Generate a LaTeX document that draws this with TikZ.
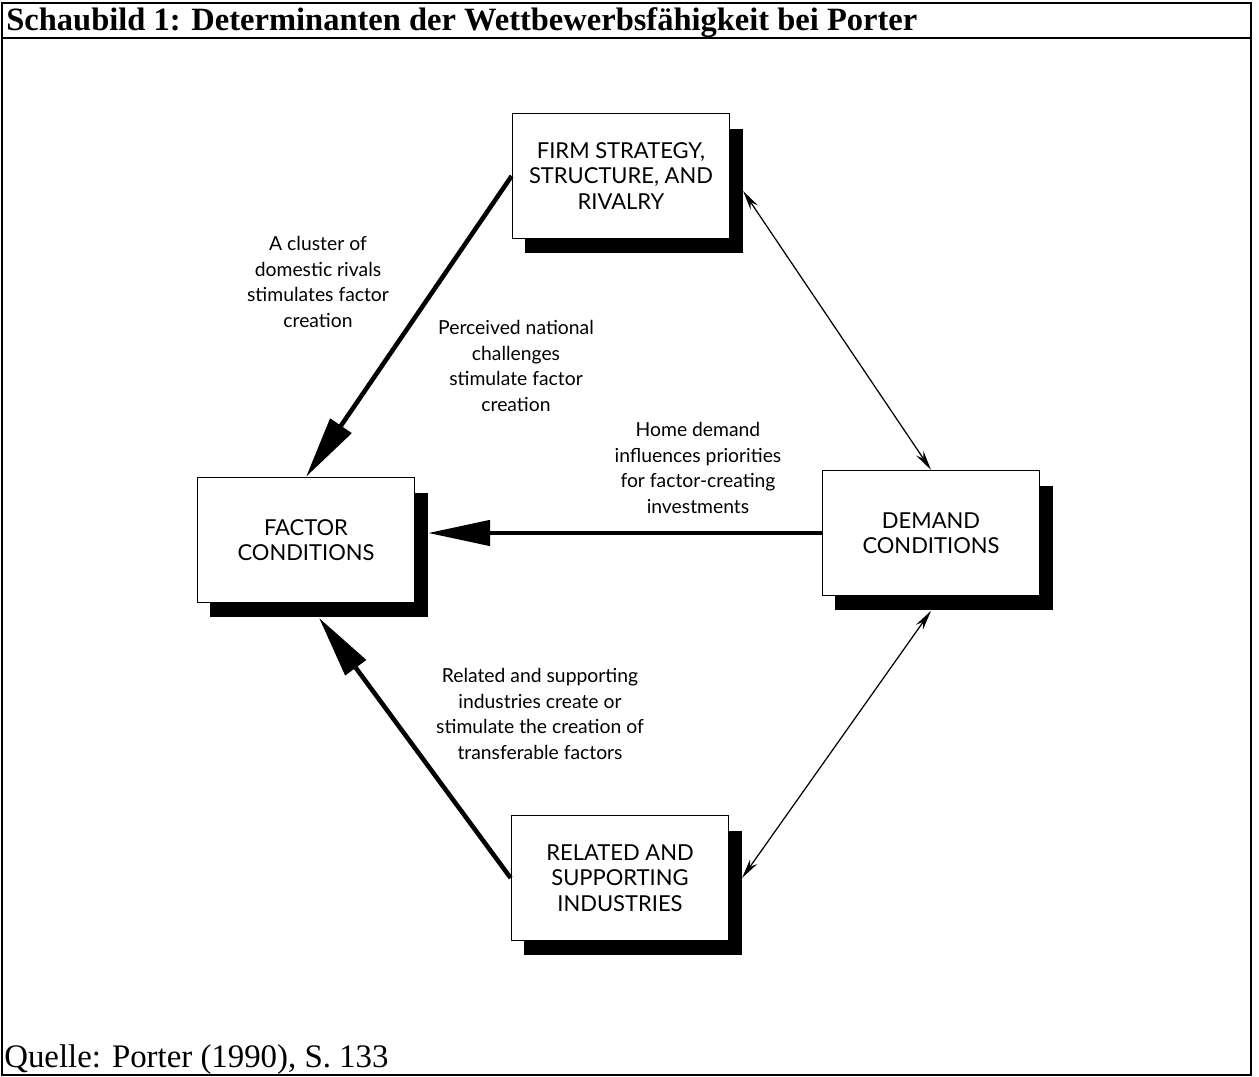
\documentclass[tikz,border=0pt]{standalone}
\usepackage{fontspec}
\setmainfont{Liberation Serif}
\newfontfamily\diagfont{Lato}
\usetikzlibrary{arrows.meta}

\tikzset{
  box/.style={draw, fill=white, line width=0.7pt, minimum width=4.35cm,
    minimum height=2.5cm, align=center, inner sep=0pt,
    font=\diagfont\fontsize{12.5}{14.5}\selectfont},
  boxshadow/.style={fill=black, minimum width=4.35cm, minimum height=2.5cm, inner sep=0pt},
  note/.style={align=center, font=\diagfont\fontsize{11}{14.6}\selectfont},
  bigarrow/.style={line width=2.6pt, -{Triangle[length=1.24cm, width=0.5cm]}},
  thinarrow/.style={line width=0.7pt,
    {Stealth[length=0.4cm, width=0.17cm]}-{Stealth[length=0.4cm, width=0.17cm]}}
}

\begin{document}
\begin{tikzpicture}[x=0.02cm, y=-0.02cm]
  \useasboundingbox (0,0) rectangle (1259,1077);

  % frame and title
  \draw[line width=1.1pt] (2,3) rectangle (1251,1075);
  \draw[line width=1.1pt] (2,38) -- (1251,38);
  \node[anchor=base west, inner sep=0pt, font=\bfseries\fontsize{18.5}{21}\selectfont]
    (title) at (6,31) {Schaubild 1: Determinanten der Wettbewerbsfähigkeit bei Porter};
  \node[anchor=base west, inner sep=0pt, font=\fontsize{18.7}{21}\selectfont]
    (source) at (4,1068) {Quelle: Porter (1990), S. 133};

  % shadows
  \node[boxshadow] (firm-sh) at (634,191) {};
  \node[boxshadow] (factor-sh) at (319,555) {};
  \node[boxshadow] (demand-sh) at (944,548) {};
  \node[boxshadow] (related-sh) at (633,893) {};

  % the four determinants
  \node[box] (firm) at (621,176) {FIRM STRATEGY,\\STRUCTURE, AND\\RIVALRY};
  \node[box] (factor) at (306,540) {FACTOR\\CONDITIONS};
  \node[box] (demand) at (931,533) {DEMAND\\CONDITIONS};
  \node[box] (related) at (620,878) {RELATED AND\\SUPPORTING\\INDUSTRIES};

  % connectors
  \draw[bigarrow] (firm.west) -- (factor.north);
  \draw[bigarrow] (demand.west) -- (demand.west -| factor-sh.east);
  \draw[bigarrow] (related.west) -- (factor-sh.south);
  \draw[thinarrow] (firm-sh.east) -- (demand.north);
  \draw[thinarrow] (demand.south |- demand-sh.south) -- (related-sh.east |- related.east);

  % labels
  \node[note] (rivals) at (318,282) {A cluster of\\domestic rivals\\stimulates factor\\creation};
  \node[note] (challenges) at (516,366) {Perceived national\\challenges\\stimulate factor\\creation};
  \node[note] (home) at (698,468) {Home demand\\influences priorities\\for factor-creating\\investments};
  \node[note] (supporting) at (540,714) {Related and supporting\\industries create or\\stimulate the creation of\\transferable factors};
\end{tikzpicture}
\end{document}
